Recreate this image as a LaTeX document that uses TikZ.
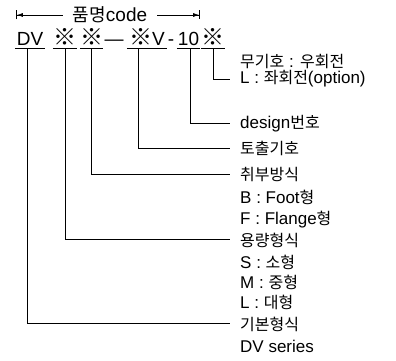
\documentclass[tikz,border=0pt]{standalone}
\usepackage{fontspec}
\setmainfont{Liberation Sans}
\newfontfamily\kr{Noto Sans CJK KR}
\usetikzlibrary{arrows.meta}
\newcommand\K[1]{{\kr\fontsize{16}{18}\selectfont #1}}
\newcommand\KM{{\kr\fontsize{23}{24}\selectfont\bfseries ※}}
\begin{document}
\begin{tikzpicture}[x=1pt,y=-1pt,
  lab/.style={anchor=base west,inner sep=0pt,font=\fontsize{17}{20}\selectfont},
  cell/.style={anchor=base,inner sep=0pt,text depth=2pt,font=\fontsize{19}{22}\selectfont},
  conn/.style={line width=0.9pt},
  dim/.style={line width=0.8pt}]
\useasboundingbox (0,0) rectangle (396,361);
% title with dimension arrows
\node[inner xsep=10pt,inner ysep=0pt,font=\fontsize{19}{22}\selectfont] (title) at (110,15) {{\kr\fontsize{18}{20}\selectfont 품명}code};
\coordinate (lbar) at (16,15);
\coordinate (rbar) at (200,15);
\draw[dim,-{Latex[length=6pt,width=4pt]Bar[width=9pt]}] (title.west) -- (lbar);
\draw[dim,-{Latex[length=6pt,width=4pt]Bar[width=9pt]}] (title.east) -- (rbar);
% code row
\node[cell,minimum width=30pt] (dv) at (30,46) {DV};
\node[cell,minimum width=24pt] (s1) at (65,46) {\KM};
\node[cell,minimum width=23pt] (s2) at (91.5,46) {\KM};
\node[cell] (dash) at (114,46) {---};
\node[cell,minimum width=40pt] (s3) at (147,46) {\KM V};
\node[cell] (hy) at (171,46) {-};
\node[cell,minimum width=23pt] (ten) at (188.5,46) {10};
\node[cell,minimum width=22pt] (s4) at (213,46) {\KM};
\foreach \n in {dv,s1,s2,s3,ten,s4}
  \draw[conn] (\n.south west) -- (\n.south east);
% labels
\node[lab] (mugiho) at (240,67) {\K{무기호} : \K{우회전}};
\node[lab] (lopt) at (240,84) {L : \K{좌회전}(option)};
\node[lab] (design) at (240,128) {design\K{번호}};
\node[lab] (tochul) at (240,154) {\K{토출기호}};
\node[lab] (chwibu) at (240,180) {\K{취부방식}};
\node[lab] (foot) at (240,203) {B : Foot\K{형}};
\node[lab] (flange) at (240,224) {F : Flange\K{형}};
\node[lab] (yong) at (240,246) {\K{용량형식}};
\node[lab] (ss) at (240,268) {S : \K{소형}};
\node[lab] (mm) at (240,288) {M : \K{중형}};
\node[lab] (ll) at (240,308) {L : \K{대형}};
\node[lab] (kibon) at (240,330) {\K{기본형식}};
\node[lab] (series) at (240,352) {DV series};
% connectors
\draw[conn] ([xshift=-3pt]dv.south) |- ([xshift=-10pt]kibon.west);
\draw[conn] (s1.south) |- ([xshift=-10pt]yong.west);
\draw[conn] (s2.south) |- ([xshift=-10pt]chwibu.west);
\draw[conn] ([xshift=-9pt]s3.south) |- ([xshift=-10pt]tochul.west);
\draw[conn] ([xshift=1.5pt]ten.south) |- ([xshift=-10pt]design.west);
\draw[conn] (s4.south) |- ([xshift=-10pt]lopt.west);
\end{tikzpicture}
\end{document}
